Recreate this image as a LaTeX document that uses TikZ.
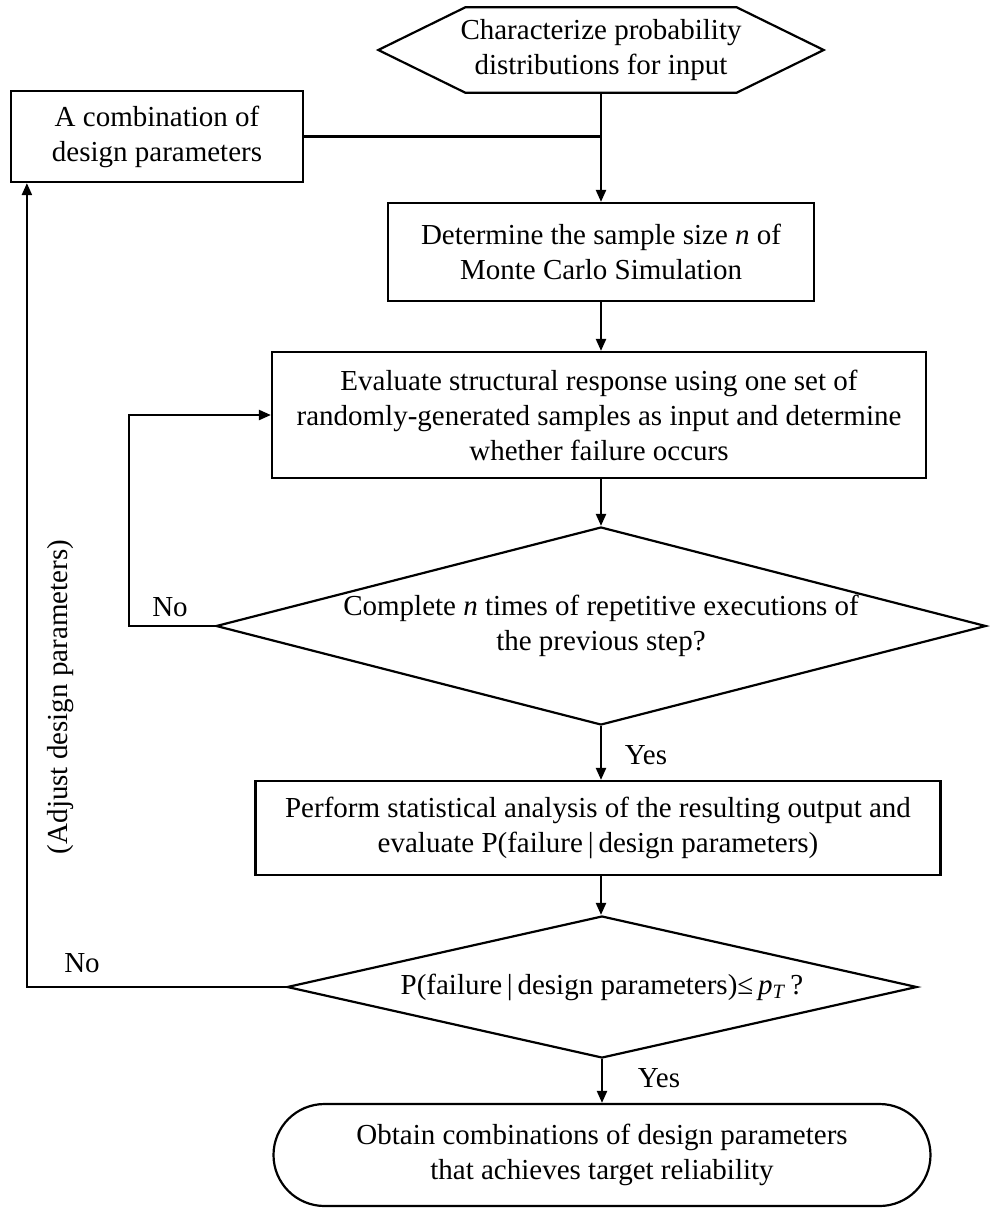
\documentclass[tikz,border=0pt]{standalone}
\usepackage{fontspec}
\setmainfont{Liberation Serif}
\usetikzlibrary{shapes.geometric,arrows.meta,calc}
\begin{document}
\begin{tikzpicture}[x=1pt,y=-1pt,
  every node/.style={font=\fontsize{29}{35}\selectfont, align=center, inner sep=0pt},
  proc/.style={draw, line width=2.2pt, rectangle},
  dec/.style={draw, line width=2.2pt, diamond},
  conn/.style={line width=2.2pt},
  arr/.style={conn,-{Triangle[length=12pt,width=10pt]}}
]
\useasboundingbox (0,0) rectangle (989,1208);

% top hexagon
\node (hex) at (601,50) [minimum width=445pt, minimum height=85pt] {Characterize probability\\distributions for input};
\draw[conn] (hex.west) -- ([xshift=87pt]hex.north west) -- ([xshift=-87pt]hex.north east) -- (hex.east) -- ([xshift=-87pt]hex.south east) -- ([xshift=87pt]hex.south west) -- cycle;

\node[proc, minimum width=292pt, minimum height=91pt] (combo) at (157,136.5) {A combination of\\design parameters};

\node[proc, minimum width=426pt, minimum height=98pt] (det) at (601,252) {Determine the sample size \textit{n} of\\Monte Carlo Simulation};

\node[proc, minimum width=654pt, minimum height=126pt] (eval) at (599,415) {Evaluate structural response using one set of\\randomly-generated samples as input and determine\\whether failure occurs};

\node[dec, minimum width=770pt, minimum height=198pt, aspect=3.9] (d1) at (601,626) {Complete \textit{n} times of repetitive executions of\\the previous step?};

\node[proc, minimum width=685pt, minimum height=94pt] (perf) at (598,828) {Perform statistical analysis of the resulting output and\\evaluate P(failure\,|\,design parameters)};

\node[dec, minimum width=630pt, minimum height=142pt, aspect=4.4] (d2) at (602,987) {P(failure\,|\,design parameters)≤\,\textit{p}\textsubscript{\textit{T}}\,?};

\node[draw, line width=2.2pt, rounded corners=51pt, minimum width=657pt, minimum height=102pt] (term) at (602,1155) {Obtain combinations of design parameters\\that achieves target reliability};

% labels
\node (no1) at (170,607) {No};
\node (yes1) at (646,755) {Yes};
\node (no2) at (82,963) {No};
\node (yes2) at (659,1078) {Yes};
\node[rotate=90] (adj) at (61,697) {(Adjust design parameters)};

% connectors
\draw[arr] (hex.south) -- (det.north);
\draw[conn] (combo.east) -- (combo.east -| hex.south);
\draw[arr] (det.south) -- (det.south |- eval.north);
\draw[arr] (eval.south -| d1.north) -- (d1.north);
\draw[arr] (d1.south) -- (d1.south |- perf.north);
\draw[arr] (perf.south -| d1.south) -- (d2.north -| d1.south);
\draw[arr] (d2.south) -- (d2.south |- term.north);
\draw[arr] (d1.west) -- ++(-86,0) |- (eval.west);
\draw[arr] (d2.west) -| ([xshift=17pt]combo.south west);
\end{tikzpicture}
\end{document}
